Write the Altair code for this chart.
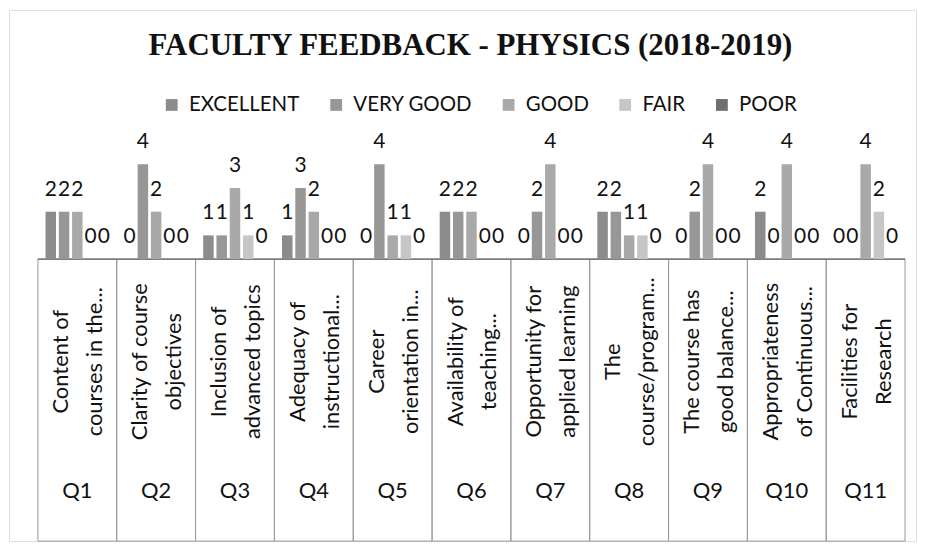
import altair as alt
import pandas as pd

questions = ["Q1", "Q2", "Q3", "Q4", "Q5", "Q6", "Q7", "Q8", "Q9", "Q10", "Q11"]
question_labels = [
    "Content of\ncourses in the...",
    "Clarity of course\nobjectives",
    "Inclusion of\nadvanced topics",
    "Adequacy of\ninstructional...",
    "Career\norientation in...",
    "Availability of\nteaching...",
    "Opportunity for\napplied learning",
    "The\ncourse/program...",
    "The course has\ngood balance...",
    "Appropriateness\nof Continuous...",
    "Facilities for\nResearch",
]
series = ["EXCELLENT", "VERY GOOD", "GOOD", "FAIR", "POOR"]
excellent = [2, 0, 1, 1, 0, 2, 0, 2, 0, 2, 0]
very_good = [2, 4, 1, 3, 4, 2, 2, 2, 2, 0, 0]
good = [2, 2, 3, 2, 1, 2, 4, 1, 4, 4, 4]
fair = [0, 0, 1, 0, 1, 0, 0, 1, 0, 0, 2]
poor = [0, 0, 0, 0, 0, 0, 0, 0, 0, 0, 0]
colors = ["#8c8c8c", "#979797", "#a9a9a9", "#c6c6c6", "#6e6e6e"]

values = [excellent, very_good, good, fair, poor]
rows = []
for s, vals in zip(series, values):
    for q, v in zip(questions, vals):
        rows.append({"Q": q, "Rating": s, "Count": v})
df = pd.DataFrame(rows)
cat_df = pd.DataFrame({"Q": questions, "Label": question_labels})

FONT = "Lato"
W, H = 910, 533

x_enc = alt.X("Q:N", sort=questions, axis=None,
              scale=alt.Scale(range=[29, 899], paddingInner=0, paddingOuter=0))
y_scale = alt.Scale(domain=[0, 4], range=[250, 155], nice=False, zero=True)
offset_scale = alt.Scale(paddingInner=0.21, paddingOuter=0.575)

boxes = alt.Chart(cat_df).mark_rect(fill="white", fillOpacity=0, stroke="#9a9a9a", strokeWidth=1).encode(
    x=x_enc, y=alt.value(250), y2=alt.value(H)
)

baseline = alt.Chart(cat_df).mark_rule(color="#666", strokeWidth=1.2).encode(
    x=alt.X("Q:N", sort=questions, axis=None, bandPosition=0,
            scale=alt.Scale(range=[29, 899], paddingInner=0, paddingOuter=0)),
    x2=alt.value(899),
    y=alt.value(250),
).transform_filter(alt.datum.Q == questions[0])

bars = alt.Chart(df).mark_bar().encode(
    x=x_enc,
    xOffset=alt.XOffset("Rating:N", sort=series, scale=offset_scale),
    y=alt.Y("Count:Q", scale=y_scale, axis=None),
    color=alt.Color("Rating:N", sort=series,
                    scale=alt.Scale(domain=series, range=colors),
                    legend=alt.Legend(title=None, orient="none", direction="horizontal",
                                      legendX=153, legendY=85, symbolType="square",
                                      symbolSize=140, symbolStrokeWidth=0,
                                      labelFont=FONT, labelFontSize=20.5, labelColor="#111",
                                      columnPadding=26, labelOffset=7)),
)

value_labels = alt.Chart(df).mark_text(font=FONT, fontSize=21, color="#111",
                                       baseline="alphabetic", dy=-16).encode(
    x=x_enc,
    xOffset=alt.XOffset("Rating:N", sort=series, scale=offset_scale),
    y=alt.Y("Count:Q", scale=y_scale, axis=None),
    text="Count:Q",
)

long_labels = alt.Chart(cat_df).mark_text(font=FONT, fontSize=22, color="#111", angle=270,
                                          align="center", baseline="middle", dy=-16,
                                          lineBreak="\n", lineHeight=34).encode(
    x=x_enc, y=alt.value(353), text="Label:N"
)

q_labels = alt.Chart(cat_df).mark_text(font=FONT, fontSize=22, color="#111",
                                       align="center", baseline="middle").encode(
    x=x_enc, y=alt.value(483), text="Q:N"
)

chart = alt.layer(boxes, baseline, bars, value_labels, long_labels, q_labels).properties(
    width=W, height=H,
    padding=1,
    autosize=alt.AutoSizeParams(type="none"),
    title=alt.TitleParams("FACULTY FEEDBACK - PHYSICS (2018-2019)", font="Liberation Serif",
                          fontSize=31, fontWeight="bold", color="#111", anchor="middle",
                          frame="group", dx=8, dy=56),
).configure_view(stroke="#555", strokeWidth=1.5).configure(background="white")

chart.save("out.html", embed_options={"renderer": "svg", "actions": False})
